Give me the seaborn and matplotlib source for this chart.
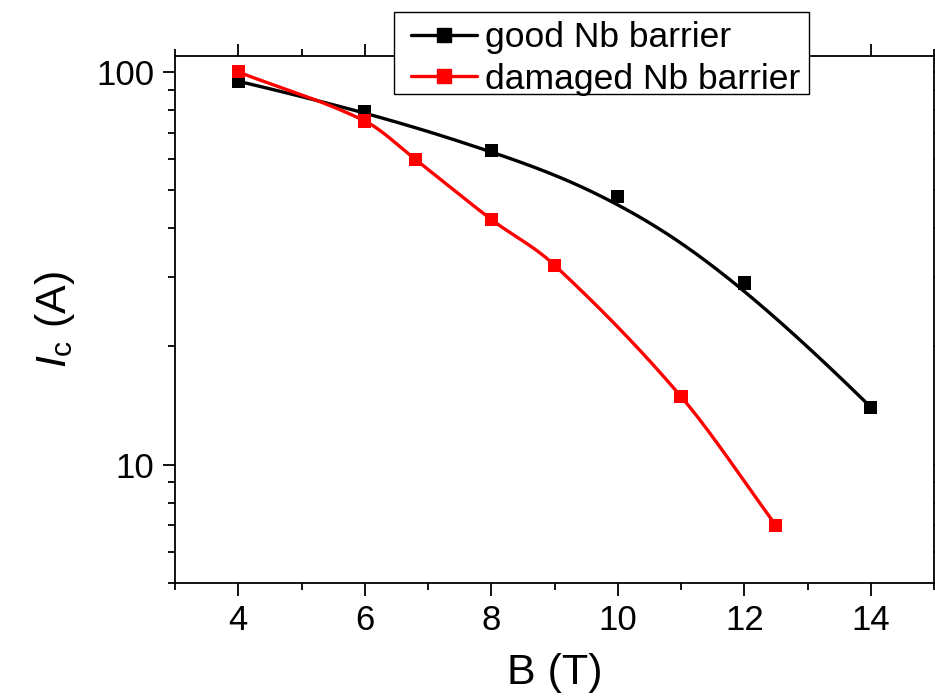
import numpy as np
import pandas as pd
import matplotlib
matplotlib.use("Agg")
import matplotlib.pyplot as plt
from matplotlib.lines import Line2D
from matplotlib.patches import Rectangle
from matplotlib.ticker import LogLocator, NullFormatter, FixedLocator, MultipleLocator
import seaborn as sns

# ---- data ----
good_B = [4, 6, 8, 10, 12, 14]
good_Ic = [94.7, 79.5, 63.0, 48.1, 29.0, 14.0]
damaged_B = [4, 6, 6.8, 8, 9, 11, 12.5]
damaged_Ic = [100.0, 75.0, 59.9, 42.1, 32.2, 14.9, 7.0]
series_labels = ["good Nb barrier", "damaged Nb barrier"]
series_colors = ["black", "#ff0000"]
x_ticks = [4, 6, 8, 10, 12, 14]
y_ticks = [10, 100]


def hermite_spline(x, y, n=300):
    """Interpolating cubic through the points, finite-difference tangents."""
    x = np.asarray(x, float); y = np.asarray(y, float)
    k = len(x)
    m = np.zeros(k)
    m[0] = (y[1] - y[0]) / (x[1] - x[0])
    m[-1] = (y[-1] - y[-2]) / (x[-1] - x[-2])
    for i in range(1, k - 1):
        m[i] = (y[i + 1] - y[i - 1]) / (x[i + 1] - x[i - 1])
    xs = np.linspace(x[0], x[-1], n)
    idx = np.clip(np.searchsorted(x, xs) - 1, 0, k - 2)
    h = x[idx + 1] - x[idx]
    t = (xs - x[idx]) / h
    h00 = 2 * t ** 3 - 3 * t ** 2 + 1
    h10 = t ** 3 - 2 * t ** 2 + t
    h01 = -2 * t ** 3 + 3 * t ** 2
    h11 = t ** 3 - t ** 2
    ys = h00 * y[idx] + h10 * h * m[idx] + h01 * y[idx + 1] + h11 * h * m[idx + 1]
    return xs, ys


def bspline(px, py, n=300, deg=3):
    P = np.column_stack([px, py]).astype(float)
    m = len(P)
    knots = np.concatenate([np.zeros(deg), np.arange(m - deg + 1), np.full(deg, m - deg)]).astype(float)
    t = np.linspace(0, m - deg, n)
    t[-1] -= 1e-9

    def N(i, p, t):
        if p == 0:
            return np.where((knots[i] <= t) & (t < knots[i + 1]), 1.0, 0.0)
        out = np.zeros_like(t)
        d1 = knots[i + p] - knots[i]
        d2 = knots[i + p + 1] - knots[i + 1]
        if d1 > 0:
            out += (t - knots[i]) / d1 * N(i, p - 1, t)
        if d2 > 0:
            out += (knots[i + p + 1] - t) / d2 * N(i + 1, p - 1, t)
        return out

    C = sum(N(i, deg, t)[:, None] * P[i] for i in range(m))
    return C[:, 0], C[:, 1]


sns.set_theme(style="ticks")
plt.rcParams["font.family"] = ["Liberation Sans", "DejaVu Sans"]
plt.rcParams["mathtext.fontset"] = "custom"
plt.rcParams["mathtext.rm"] = "Liberation Sans"
plt.rcParams["mathtext.it"] = "Liberation Sans:italic"
plt.rcParams["text.color"] = "black"
plt.rcParams["axes.labelcolor"] = "black"
plt.rcParams["xtick.color"] = "black"
plt.rcParams["ytick.color"] = "black"

W, H = 935, 698
fig = plt.figure(figsize=(W / 100, H / 100), dpi=100)
ax = fig.add_axes([175 / W, 1 - 582.7 / H, (934 - 175) / W, (582.7 - 55.7) / H])

# smooth connectors (Origin-style B-spline / spline connection of the data points)
gx, gy = bspline(good_B, np.log10(good_Ic))
dx, dy = hermite_spline(damaged_B, np.log10(damaged_Ic))
curves = pd.DataFrame({
    "B": np.concatenate([gx, dx]),
    "Ic": np.concatenate([10 ** gy, 10 ** dy]),
    "series": [series_labels[0]] * len(gx) + [series_labels[1]] * len(dx),
})
sns.lineplot(data=curves, x="B", y="Ic", hue="series", palette=series_colors,
             linewidth=2.4, legend=False, ax=ax, sort=False, estimator=None)

pts = pd.DataFrame({
    "B": good_B + damaged_B,
    "Ic": good_Ic + damaged_Ic,
    "series": [series_labels[0]] * len(good_B) + [series_labels[1]] * len(damaged_B),
})
sns.scatterplot(data=pts, x="B", y="Ic", hue="series", palette=series_colors,
                marker="s", s=88, linewidth=0, legend=False, ax=ax, zorder=3)

ax.set_yscale("log")
ax.set_xlim(3, 15)
ax.set_ylim(5, 110)
ax.xaxis.set_major_locator(FixedLocator(x_ticks))
ax.xaxis.set_minor_locator(MultipleLocator(1))
ax.yaxis.set_major_locator(FixedLocator(y_ticks))
ax.yaxis.set_minor_locator(LogLocator(base=10, subs=np.arange(2, 10)))
ax.yaxis.set_minor_formatter(NullFormatter())
ax.set_yticklabels([str(v) for v in y_ticks])
ax.set_xticklabels([str(v) for v in x_ticks])

for s in ax.spines.values():
    s.set_linewidth(1.3)
    s.set_color("black")
ax.tick_params(axis="both", which="major", labelsize=25, length=9, width=1.3,
               direction="out", colors="black", pad=6)
ax.tick_params(axis="both", which="minor", length=5, width=1.3, direction="out")
ax.tick_params(axis="x", which="both", top=True)
ax.tick_params(axis="y", which="both", right=True)

ax.set_xlabel("B (T)", fontsize=31, labelpad=12)
ax.set_ylabel(r"$I_\mathrm{c}$ (A)", fontsize=31, labelpad=14)

# legend (frameless) + its box
handles = [Line2D([], [], color=c, lw=2.4, marker="s", markersize=9.4) for c in series_colors]
leg = fig.legend(handles, series_labels, loc="upper left",
                 bbox_to_anchor=(411 / W, 1 - 21 / H), bbox_transform=fig.transFigure,
                 fontsize=25.5, frameon=False, borderaxespad=0,
                 handlelength=1.85, handletextpad=0.25, borderpad=0.0, labelspacing=0.25)
leg.set_zorder(10)
box = Rectangle((394 / W, 1 - 94.3 / H), (809 - 394) / W, (94.3 - 12.3) / H,
                transform=fig.transFigure, facecolor="white", edgecolor="black",
                linewidth=1.0, zorder=9)
fig.add_artist(box)

fig.savefig("out.png", dpi=100)
